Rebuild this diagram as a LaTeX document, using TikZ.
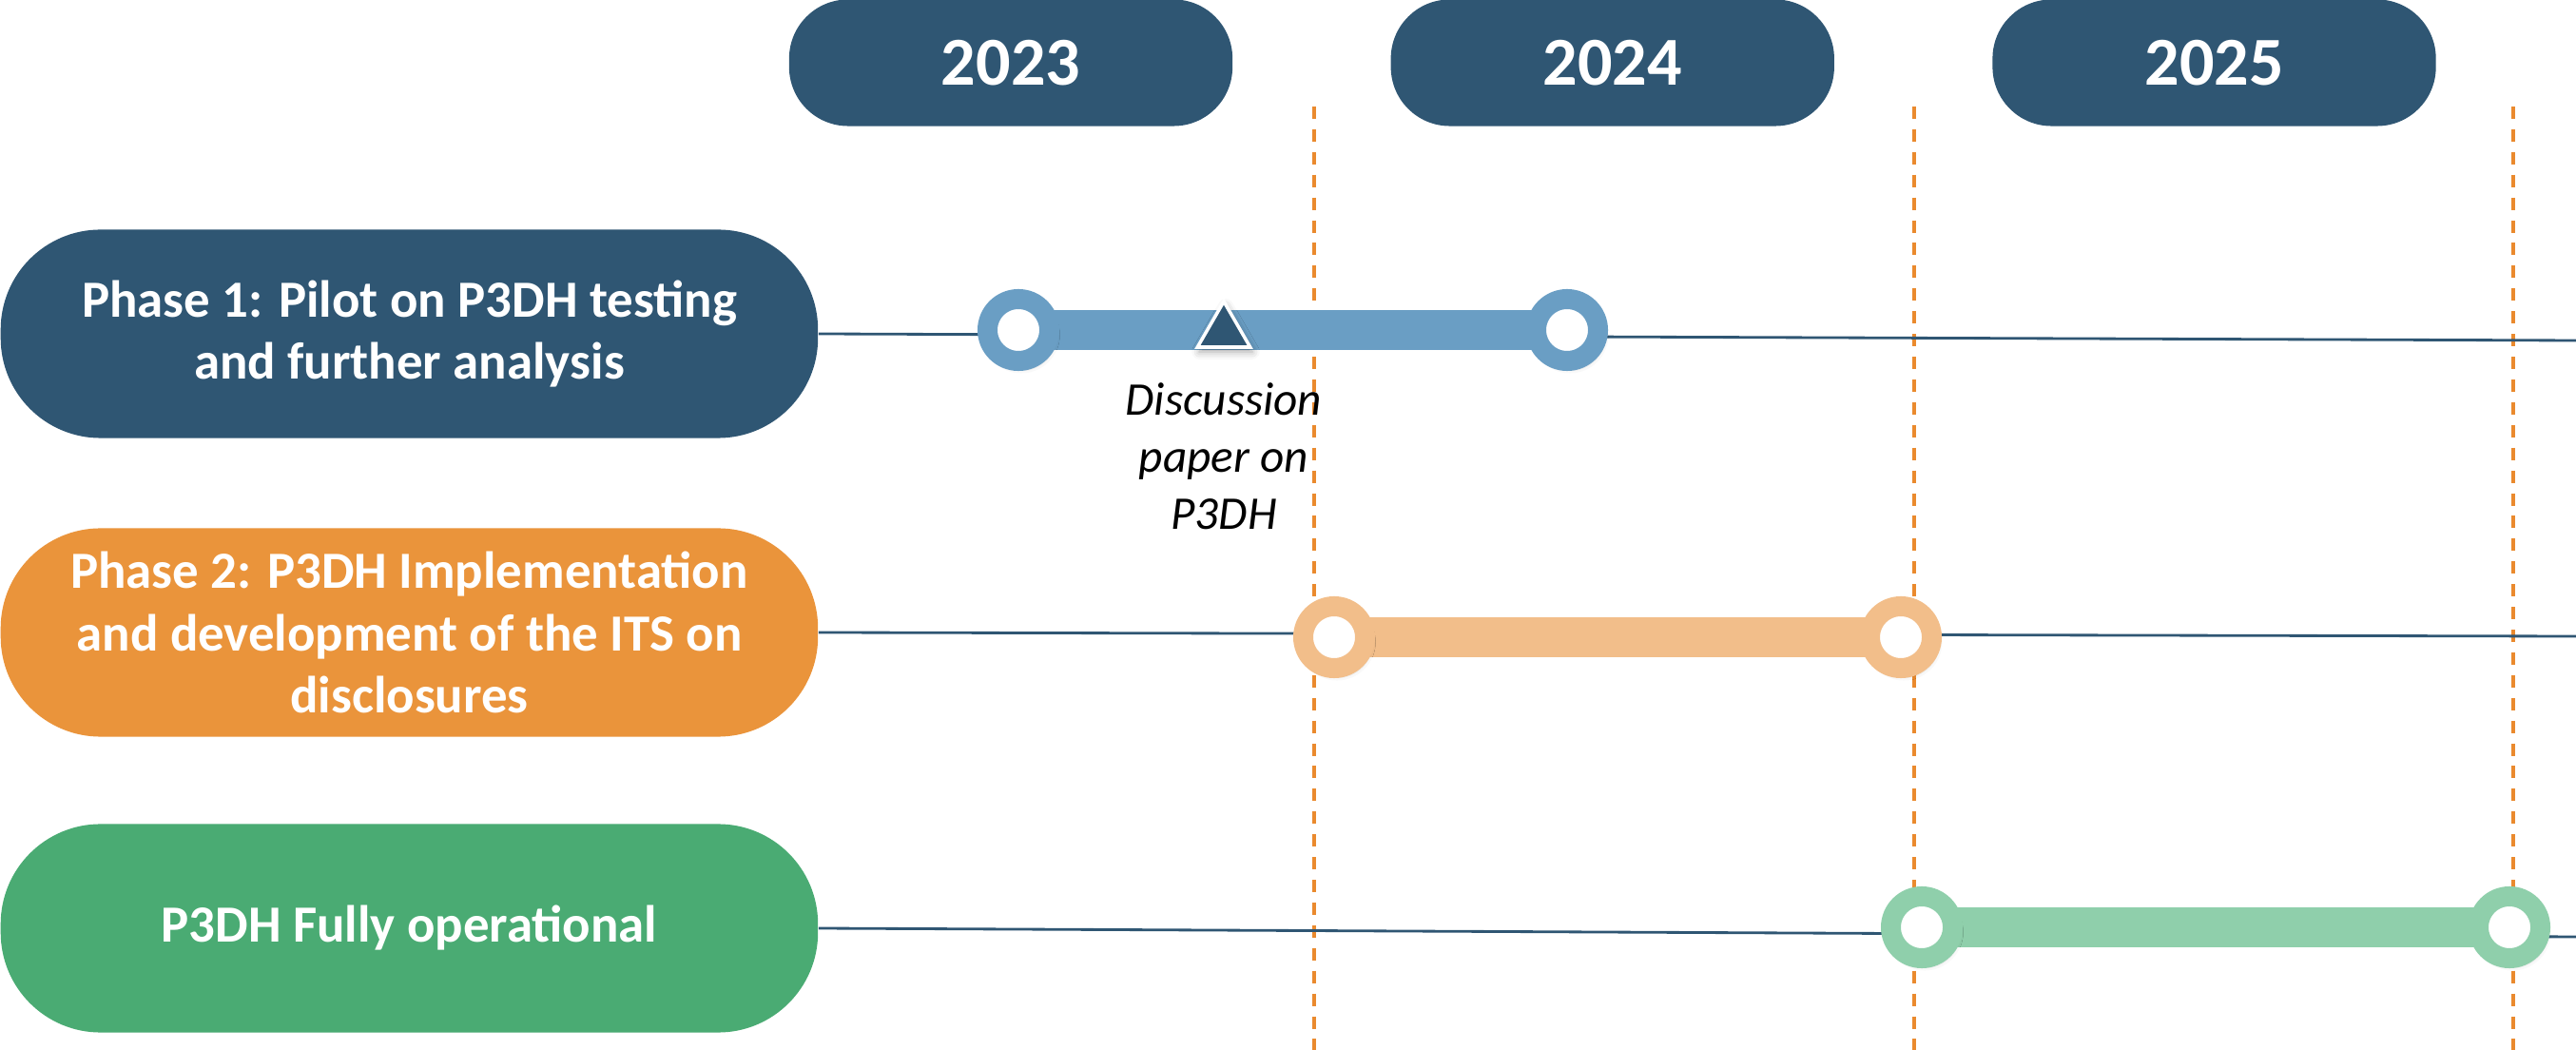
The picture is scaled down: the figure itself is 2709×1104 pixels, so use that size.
\documentclass[tikz,border=0pt]{standalone}
\usepackage{fontspec}
\setmainfont{Carlito}
\usetikzlibrary{positioning, shapes.geometric, shadows.blur, backgrounds}

\definecolor{azuloscuro}{RGB}{47,86,115}
\definecolor{azulclaro}{RGB}{106,158,196}
\definecolor{naranja}{RGB}{234,148,59}
\definecolor{naranjaclaro}{RGB}{242,190,138}
\definecolor{verde}{RGB}{74,171,115}
\definecolor{verdeclaro}{RGB}{143,207,171}
\definecolor{guia}{RGB}{234,138,46}

\begin{document}
\begin{tikzpicture}[x=0.01cm, y=-0.01cm,
    fase/.style={rectangle, rounded corners=1.05cm, minimum width=8.59cm, minimum height=2.19cm, inner sep=0pt, anchor=west, text=white, align=center, font=\bfseries\fontsize{15.6}{18.7}\selectfont},
    anio/.style={rectangle, rounded corners=0.62cm, fill=azuloscuro, minimum width=4.66cm, minimum height=1.33cm, text=white, font=\bfseries\fontsize{20.5}{24}\selectfont},
    hito/.style={circle, fill=white, line width=0.21cm, minimum size=0.65cm, inner sep=0pt, blur shadow={shadow xshift=0.03cm, shadow yshift=-0.05cm, shadow blur radius=0.08cm, shadow opacity=35}},
    marca/.style={regular polygon, regular polygon sides=3, minimum size=0.64cm, inner sep=0pt, fill=azuloscuro, draw=white, line width=1pt, blur shadow={shadow xshift=0.02cm, shadow yshift=-0.05cm, shadow blur radius=0.08cm, shadow opacity=35}},
    nota/.style={align=center, inner sep=0pt, font=\itshape\fontsize{14}{17}\selectfont},
    linea/.style={azuloscuro, line width=0.8pt},
    barra/.style={line width=0.41cm},
    guialine/.style={guia, line width=0.9pt, dash pattern=on 3.7pt off 3.1pt}]
    \useasboundingbox (0,0) rectangle (2709,1104);

    % Fases
    \node[fase, fill=azuloscuro] (fase1) at (0,351) {Phase 1: Pilot on P3DH testing\\and further analysis};
    \node[fase, fill=naranja] (fase2) at (0,665) {Phase 2: P3DH Implementation\\and development of the ITS on\\disclosures};
    \node[fase, fill=verde] (fase3) at (0,976) {P3DH Fully operational};

    % Años
    \node[anio] (a2023) at (1063,66) {2023};
    \node[anio, right=1.65cm of a2023] (a2024) {2024};
    \node[anio, right=1.65cm of a2024] (a2025) {2025};

    % Hitos
    \node[hito, draw=azulclaro] (h1a) at (1071,347) {};
    \node[hito, draw=azulclaro] (h1b) at (1648,347) {};
    \node[hito, draw=naranjaclaro] (h2a) at (1403,670) {};
    \node[hito, draw=naranjaclaro] (h2b) at (1999,670) {};
    \node[hito, draw=verdeclaro] (h3a) at (2021,975) {};
    \node[hito, draw=verdeclaro] (h3b) at (2639,975) {};

    % Documento de discusión
    \node[marca] (papel) at (1287,349) {};
    \node[nota] (nota) at (1287,480) {Discussion\\paper on\\P3DH};

    \coordinate (fin1) at (2709,358);
    \coordinate (fin2) at (2709,669);
    \coordinate (fin3) at (2709,985);

    \begin{scope}[on background layer]
        % Líneas guía
        \foreach \x [count=\i] in {1382,2013,2643} {
            \coordinate (gs\i) at (\x,112);
            \coordinate (ge\i) at (\x,1104);
            \draw[guialine] (gs\i) -- (ge\i);
        }
        % Líneas de tiempo
        \draw[linea] (fase1.east) -- (fin1);
        \draw[linea] (fase2.east) -- (fin2);
        \draw[linea] (fase3.east) -- (fin3);
        % Barras
        \draw[barra, azulclaro] (h1a.center) -- (h1b.center);
        \draw[barra, naranjaclaro] (h2a.center) -- (h2b.center);
        \draw[barra, verdeclaro] (h3a.center) -- (h3b.center);
    \end{scope}
\end{tikzpicture}
\end{document}
